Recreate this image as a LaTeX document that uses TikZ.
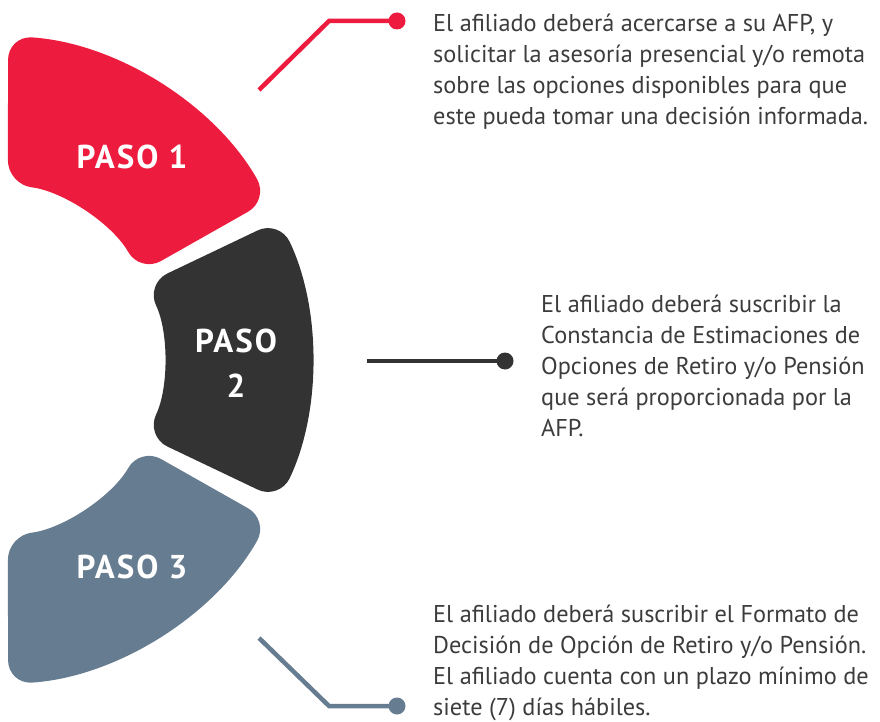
\documentclass[tikz,border=0pt]{standalone}
\usepackage{fontspec}
\setmainfont{PT Sans}
\usetikzlibrary{calc}
\definecolor{pasored}{RGB}{237,27,61}
\definecolor{pasodark}{RGB}{51,51,51}
\definecolor{pasoslate}{RGB}{102,124,144}
\definecolor{txtgray}{RGB}{60,60,60}
\begin{document}
\begin{tikzpicture}[x=1pt,y=-1pt,
  blob/.style={rounded corners=24pt},
  lbl/.style={text=white, font=\fontsize{33}{45}\selectfont\bfseries\addfontfeatures{LetterSpace=6}, align=center, inner sep=0},
  conn/.style={line width=4.5pt},
  dot/.style={circle, inner sep=0, minimum size=17pt},
  desc/.style={text=txtgray, font=\fontsize{24.3}{31}\selectfont, align=left, anchor=base west, inner sep=0}]
\useasboundingbox (0,0) rectangle (880,722);
\coordinate (C) at (-14,360);
% shapes
\fill[pasored, blob] ($(C)+(-29.5:250)$) -- ($(C)+(-29.5:325)$)
  arc[start angle=-29.5, end angle=-86.1, radius=325]
  -- ($(C)+(-82.9:177)$)
  arc[start angle=-82.9, end angle=-29.5, radius=177] -- cycle;
\fill[pasodark, blob] ($(C)+(-25.5:250)$) -- ($(C)+(-25.5:325)$)
  arc[start angle=-25.5, end angle=25.5, radius=325]
  -- ($(C)+(25.5:177)$)
  arc[start angle=25.5, end angle=-25.5, radius=177] -- cycle;
\fill[pasoslate, blob] ($(C)+(29.5:250)$) -- ($(C)+(29.5:325)$)
  arc[start angle=29.5, end angle=86.1, radius=325]
  -- ($(C)+(82.9:177)$)
  arc[start angle=82.9, end angle=29.5, radius=177] -- cycle;
% labels
\node[lbl, anchor=base] (p1) at (132,168) {PASO 1};
\node[lbl, anchor=base] (p2) at (236,397) {PASO\\2};
\node[lbl, anchor=base] (p3) at (132,578) {PASO 3};
% connectors
\coordinate (s1) at (259,90);
\coordinate (b1) at (329,21);
\node[dot, fill=pasored] (d1) at (397,21) {};
\draw[conn, pasored] (s1) -- (b1) -- (d1.center);
\coordinate (s2) at (367,361);
\node[dot, fill=pasodark] (d2) at (505,361) {};
\draw[conn, pasodark] (s2) -- (d2.center);
\coordinate (s3) at (259,638);
\coordinate (b3) at (329,706);
\node[dot, fill=pasoslate] (d3) at (397,706) {};
\draw[conn, pasoslate] (s3) -- (b3) -- (d3.center);
% texts (base anchor = baseline of last line)
\node[desc] (t1) at (433,125) {El afiliado deberá acercarse a su AFP, y\\solicitar la asesoría presencial y/o remota\\sobre las opciones disponibles para que\\este pueda tomar una decisión informada.};
\node[desc] (t2) at (541,436) {El afiliado deberá suscribir la\\Constancia de Estimaciones de\\Opciones de Retiro y/o Pensión\\que será proporcionada por la\\AFP.};
\node[desc] (t3) at (433,715) {El afiliado deberá suscribir el Formato de\\Decisión de Opción de Retiro y/o Pensión.\\El afiliado cuenta con un plazo mínimo de\\siete (7) días hábiles.};
\end{tikzpicture}
\end{document}
